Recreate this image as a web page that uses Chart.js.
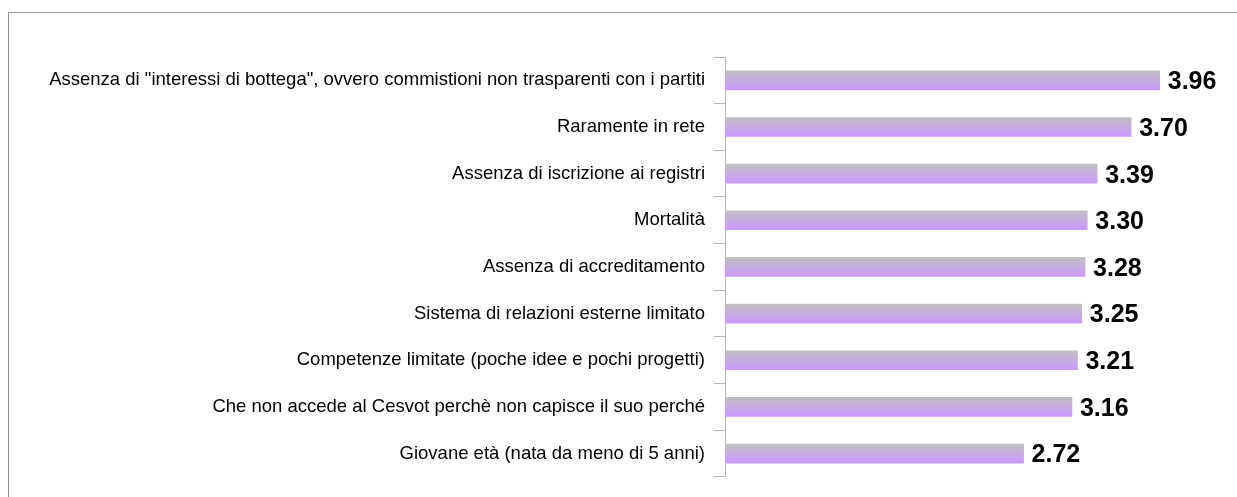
<!DOCTYPE html>
<html>
<head>
  <meta charset="utf-8" />
  <title>Criticità</title>
  <style>
    body {
      margin: 0;
      background: white;
      font-family: "Liberation Sans", Arial, sans-serif;
    }
    #wrap {
      position: relative;
      width: 1237px;
      height: 497px;
    }
    #frame {
      position: absolute;
      left: 8px;
      top: 12px;
      right: -2px;
      bottom: -2px;
      border-top: 1px solid #a6a6a6;
      border-left: 1px solid #8c8c8c;
    }
    canvas {
      position: absolute;
      left: 0;
      top: 0;
    }
  </style>
</head>
<body>
  <div id="wrap">
    <div id="frame"></div>
    <canvas id="chart" width="1237" height="497"></canvas>
  </div>

  <script src="https://cdn.jsdelivr.net/npm/chart.js"></script>
  <script>
    const labels = [
      'Assenza di "interessi di bottega", ovvero commistioni non trasparenti con i partiti',
      'Raramente in rete',
      'Assenza di iscrizione ai registri',
      'Mortalità',
      'Assenza di accreditamento',
      'Sistema di relazioni esterne limitato',
      'Competenze limitate (poche idee e pochi progetti)',
      'Che non accede al Cesvot perchè non capisce il suo perché',
      'Giovane età (nata da meno di 5 anni)'
    ];
    const values = [3.96, 3.70, 3.39, 3.30, 3.28, 3.25, 3.21, 3.16, 2.72];

    // bold value written just after the end of each bar
    const valueLabels = {
      id: 'valueLabels',
      afterDatasetsDraw(chart) {
        const ctx = chart.ctx;
        const meta = chart.getDatasetMeta(0);
        ctx.save();
        ctx.font = 'bold 25px "Liberation Sans", Arial, sans-serif';
        ctx.fillStyle = '#000';
        ctx.textAlign = 'left';
        ctx.textBaseline = 'middle';
        meta.data.forEach((bar, i) => {
          ctx.fillText(values[i].toFixed(2), bar.x + 8, bar.y + 2);
        });
        ctx.restore();
      }
    };

    function barGradient(c) {
      const chart = c.chart;
      const y = chart.scales.y;
      if (!y || y.top === undefined) return '#c8a0f0';
      const cy = y.getPixelForValue(c.dataIndex);
      const g = chart.ctx.createLinearGradient(0, cy - 9.5, 0, cy + 9.5);
      g.addColorStop(0, '#c0bfc2');
      g.addColorStop(1, '#cc99ff');
      return g;
    }

    new Chart(document.getElementById('chart'), {
      type: 'bar',
      data: {
        labels: labels,
        datasets: [{
          data: values,
          backgroundColor: barGradient,
          borderWidth: 0,
          barThickness: 19
        }]
      },
      options: {
        indexAxis: 'y',
        responsive: false,
        animation: false,
        layout: {
          padding: { top: 57, bottom: 15, left: 0, right: 7 }
        },
        plugins: {
          legend: { display: false },
          tooltip: { enabled: false }
        },
        scales: {
          x: {
            display: false,
            min: 0,
            max: 4.6
          },
          y: {
            afterFit(s) { s.width = 725; },
            border: { display: true, color: '#b4b4b4', width: 1 },
            grid: {
              drawOnChartArea: false,
              drawTicks: true,
              tickLength: 11,
              color: '#b4b4b4',
              offset: true
            },
            ticks: {
              color: '#000',
              padding: 9,
              font: { family: '"Liberation Sans", Arial, sans-serif', size: 18.5 }
            }
          }
        }
      },
      plugins: [valueLabels]
    });
  </script>
</body>
</html>
